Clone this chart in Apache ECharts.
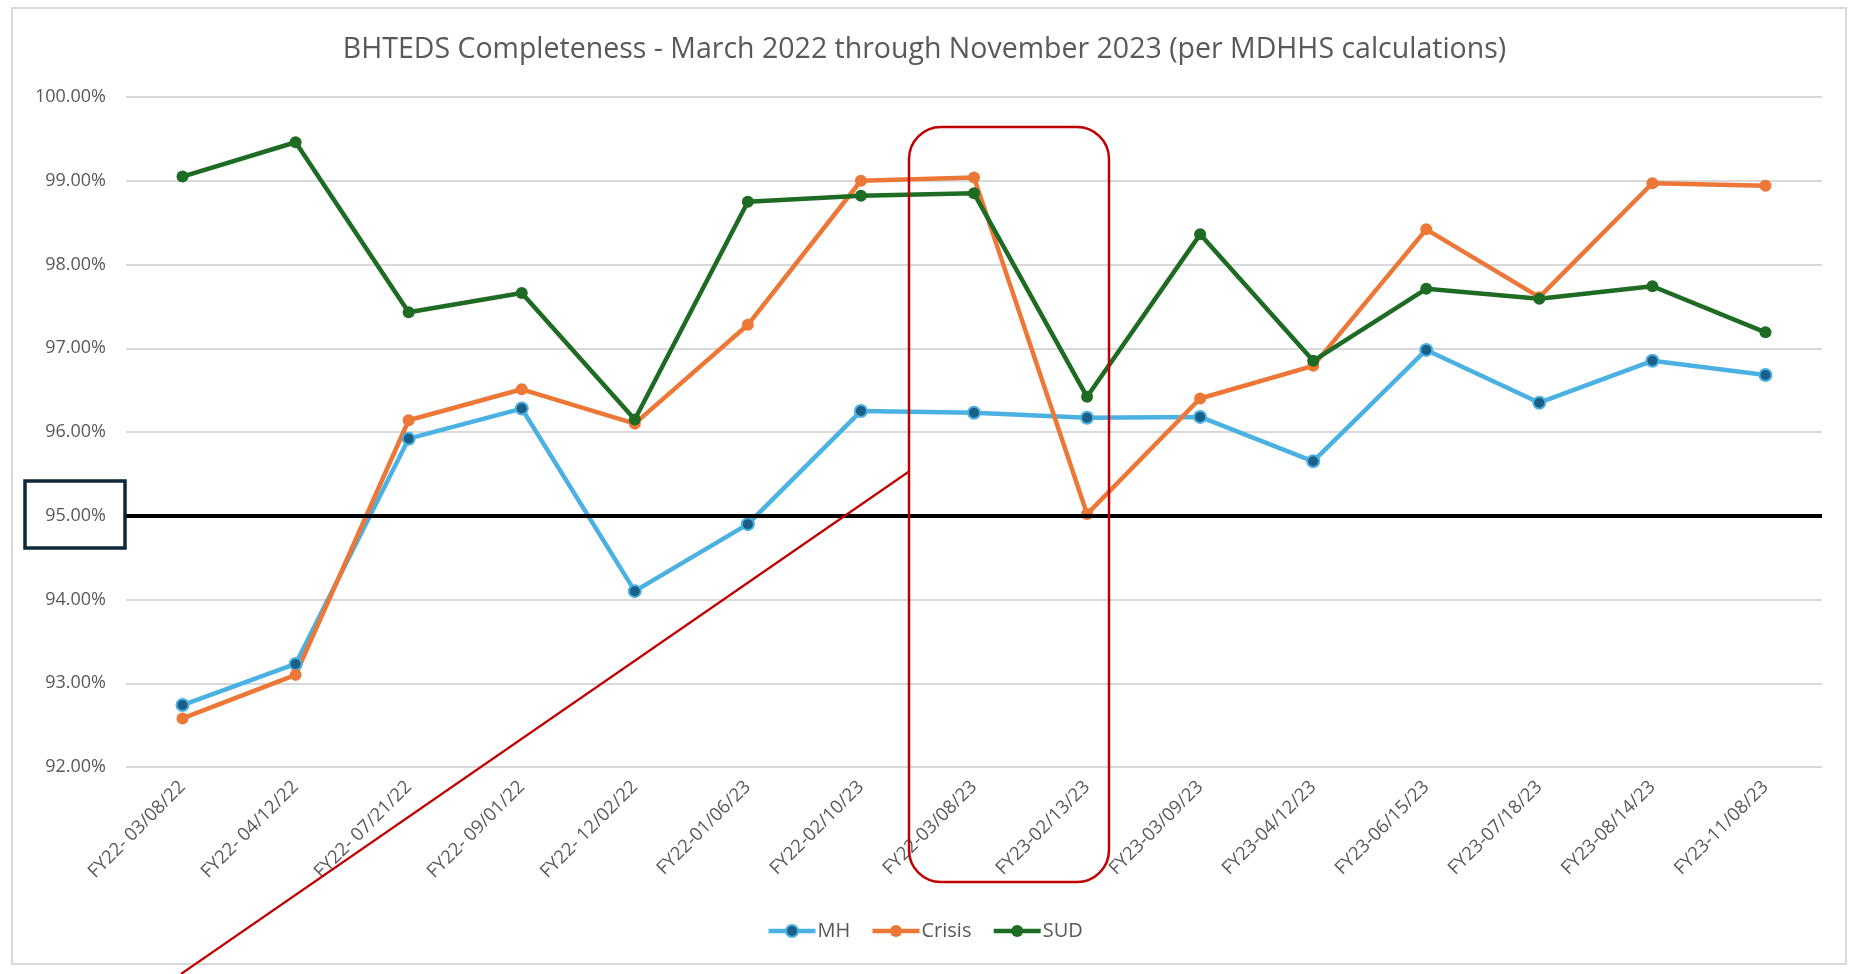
<!DOCTYPE html>
<html><head><meta charset="utf-8">
<script src="https://cdn.jsdelivr.net/npm/echarts@6/dist/echarts.min.js"></script>
<style>html,body{margin:0;padding:0;background:#fff}#c{width:1849px;height:974px}</style>
</head><body><div id="c"></div>
<script>
const titleText = 'BHTEDS Completeness - March 2022 through November 2023 (per MDHHS calculations)';
const categories = ['FY22- 03/08/22','FY22- 04/12/22','FY22- 07/21/22','FY22- 09/01/22','FY22- 12/02/22','FY22-01/06/23','FY22-02/10/23','FY22-03/08/23','FY23-02/13/23','FY23-03/09/23','FY23-04/12/23','FY23-06/15/23','FY23-07/18/23','FY23-08/14/23','FY23-11/08/23'];
const mhValues = [92.74, 93.23, 95.92, 96.28, 94.10, 94.90, 96.25, 96.23, 96.17, 96.18, 95.65, 96.98, 96.35, 96.85, 96.68];
const crisisValues = [92.58, 93.10, 96.14, 96.51, 96.10, 97.28, 99.00, 99.04, 95.02, 96.40, 96.79, 98.42, 97.61, 98.97, 98.94];
const sudValues = [99.05, 99.46, 97.43, 97.66, 96.15, 98.75, 98.82, 98.85, 96.42, 98.36, 96.85, 97.71, 97.59, 97.74, 97.19];
const yMin = 92, yMax = 100, yStep = 1;
const targetValue = 95;

const FONT = 'Open Sans';
const chart = echarts.init(document.getElementById('c'), null, {renderer: 'canvas'});

function lineSeries(name, data, lineColor, markerColor, markerBorder) {
  return {
    name, type: 'line', data,
    symbol: 'circle', symbolSize: 12,
    lineStyle: {color: lineColor, width: 4.5},
    itemStyle: {color: markerColor, borderColor: markerBorder, borderWidth: markerBorder === markerColor ? 0 : 2},
    emphasis: {disabled: true},
    animation: false
  };
}

const series = [
  lineSeries('MH', mhValues, '#4AB1E2', '#1B5F86', '#4AB1E2'),
  lineSeries('Crisis', crisisValues, '#EC7737', '#EC7737', '#EC7737'),
  lineSeries('SUD', sudValues, '#1E6B24', '#1E6B24', '#1E6B24')
];
series[2].markLine = {
  silent: true, symbol: ['none', 'none'], animation: false,
  label: {show: false},
  lineStyle: {color: '#000', width: 4, type: 'solid'},
  data: [{yAxis: targetValue}]
};

chart.setOption({
  backgroundColor: '#fff',
  animation: false,
  title: {
    text: titleText, left: 'center', top: 30,
    textStyle: {fontFamily: FONT, fontSize: 28.5, fontWeight: 'normal', color: '#595959'}
  },
  legend: {
    data: ['MH', 'Crisis', 'SUD'],
    left: 'center', top: 916,
    itemWidth: 47, itemHeight: 15, itemGap: 20,
    lineStyle: {width: 4.5},
    textStyle: {fontFamily: FONT, fontSize: 20, color: '#595959', padding: [0, 0, 0, -3]}
  },
  grid: {left: 126, right: 27, top: 97, bottom: 207, containLabel: false},
  xAxis: {
    type: 'category', data: categories, boundaryGap: true,
    axisLine: {show: false}, axisTick: {show: false},
    axisLabel: {rotate: 45, margin: 17, fontFamily: FONT, fontSize: 18.5, color: '#595959', interval: 0}
  },
  yAxis: {
    type: 'value', min: yMin, max: yMax, interval: yStep,
    axisLine: {show: false}, axisTick: {show: false},
    axisLabel: {margin: 20, fontFamily: FONT, fontSize: 18, color: '#595959',
      formatter: v => v.toFixed(2) + '%'},
    splitLine: {lineStyle: {color: '#d9d9d9', width: 2}}
  },
  series,
  graphic: [
    {type: 'rect', shape: {x: 12, y: 8, width: 1834, height: 956}, style: {fill: 'none', stroke: '#d9d9d9', lineWidth: 2}, z: -1, silent: true},
    {type: 'rect', shape: {x: 25, y: 481, width: 100, height: 67}, style: {fill: 'none', stroke: '#0e2839', lineWidth: 3.5}, z: 10, silent: true},
    {type: 'rect', shape: {x: 909, y: 127, width: 200, height: 755, r: 32}, style: {fill: 'none', stroke: '#C00000', lineWidth: 2.5}, z: 10, silent: true},
    {type: 'line', shape: {x1: 181, y1: 974, x2: 909, y2: 471.5}, style: {stroke: '#C00000', lineWidth: 2.2}, z: 10, silent: true}
  ]
});
</script></body></html>
